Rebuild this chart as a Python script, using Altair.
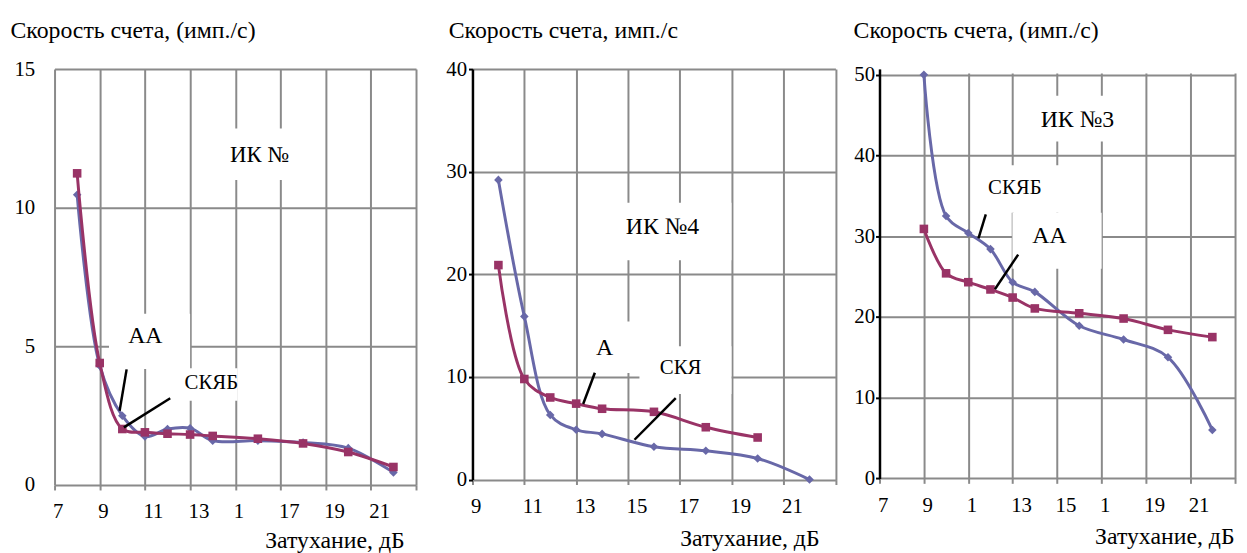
import altair as alt
import pandas as pd

# ---------------- data ----------------
# Panel 1 (ИК №)
p1_x = [8, 9, 10, 11, 12, 13, 14, 16, 18, 20, 22]
p1_skyab = [10.47, 4.3, 2.5, 1.75, 2.02, 2.05, 1.6, 1.6, 1.53, 1.33, 0.45]
p1_aa = [11.24, 4.4, 2.02, 1.9, 1.85, 1.82, 1.77, 1.67, 1.5, 1.19, 0.65]

# Panel 2 (ИК №4)
p2_x_skyab = [10, 11, 12, 13, 14, 16, 18, 20, 22]
p2_skyab = [29.2, 15.9, 6.3, 4.85, 4.45, 3.2, 2.8, 2.05, 0.0]
p2_x_aa = [10, 11, 12, 13, 14, 16, 18, 20]
p2_aa = [20.9, 9.8, 8.0, 7.4, 6.9, 6.6, 5.1, 4.1]

# Panel 3 (ИК №3)
p3_x = [9, 10, 11, 12, 13, 14, 16, 18, 20, 22]
p3_skyab = [50.0, 32.5, 30.4, 28.4, 24.3, 23.1, 18.9, 17.2, 15.0, 6.0]
p3_aa = [30.9, 25.4, 24.3, 23.4, 22.4, 21.05, 20.45, 19.8, 18.4, 17.5]

# Tick values / labels
p1_xticks = [7, 9, 11, 13, 15, 17, 19, 21, 23]
p1_xlabels = ["7", "9", "11", "13", "1", "17", "19", "21", ""]
p1_yticks = [0, 5, 10, 15]

p2_xticks = [9, 11, 13, 15, 17, 19, 21, 23]
p2_xlabels = ["9", "11", "13", "15", "17", "19", "21", ""]
p2_yticks = [0, 10, 20, 30, 40]

p3_xticks = [7, 9, 11, 13, 15, 17, 19, 21, 23]
p3_xlabels = ["7", "9", "1", "13", "15", "1", "19", "21", ""]
p3_yticks = [0, 10, 20, 30, 40, 50]

y_title_1 = "Скорость счета, (имп./с)"
y_title_2 = "Скорость счета, имп./с"
y_title_3 = "Скорость счета, (имп./с)"
x_title = "Затухание, дБ"

# Annotation boxes (white label backgrounds), texts and leader lines, in data units
p1_boxes = {"x": [14.23, 9.41, 12.04], "x2": [18.97, 13.0, 15.1],
            "y": [12.86, 6.18, 4.21], "y2": [11.0, 4.18, 3.04]}
p1_texts = {"t": ["ИК №", "АА", "СКЯБ"], "x": [16.07, 11.02, 13.94],
            "y": [11.89, 5.36, 3.69], "s": [23, 24, 21]}
p1_leaders = {"x": [10.19, 12.12], "y": [4.17, 3.13], "x2": [9.88, 10.07], "y2": [2.68, 2.08]}

p2_boxes = {"x": [14.56, 13.53, 15.44], "x2": [18.99, 15.44, 18.99],
            "y": [26.98, 15.4, 12.98], "y2": [21.38, 10.38, 8.35]}
p2_texts = {"t": ["ИК №4", "А", "СКЯ"], "x": [16.33, 14.1, 17.03],
            "y": [24.57, 12.82, 10.89], "s": [24, 24, 21]}
p2_leaders = {"x": [13.72, 16.84], "y": [10.41, 7.93], "x2": [13.27, 15.25], "y2": [7.36, 3.88]}

# panel 3: the first box is a white band above the 50 line (the panel sits lower)
p3_boxes = {"x": [7.12, 13.84, 11.52, 12.99], "x2": [23.2, 17.5, 16.07, 17.01],
            "y": [50.14, 47.39, 38.8, 32.91], "y2": [50.8, 41.74, 32.91, 25.96]}
p3_texts = {"t": ["ИК №3", "СКЯБ", "АА"], "x": [15.92, 13.1, 14.66],
            "y": [44.36, 35.98, 29.97], "s": [24, 21, 24]}
p3_leaders = {"x": [11.79, 13.25], "y": [32.7, 27.72], "x2": [11.46, 12.2], "y2": [29.72, 23.43]}

# ---------------- styling ----------------
FONT = "Liberation Serif"
BLUE = "#6868A8"
RED = "#993366"
GRID = "#8A8A8A"


def label_expr(vals, labels):
    expr = "''"
    for v, l in reversed(list(zip(vals, labels))):
        expr = f"datum.value == {v} ? '{l}' : ({expr})"
    return expr


def x_axis(vals, labels, title_x, title_y):
    return alt.Axis(
        values=vals, labelExpr=label_expr(vals, labels),
        grid=True, gridColor=GRID, gridWidth=2, gridOpacity=1,
        domain=False, ticks=True, tickColor=GRID, tickWidth=2, tickSize=5,
        labelFont=FONT, labelFontSize=21, labelColor="black",
        labelAlign="left", labelBaseline="alphabetic", labelPadding=28,
        labelOffset=-2, labelFlush=False, labelOverlap=False,
        title=x_title, titleFont=FONT, titleFontSize=24, titleFontWeight="normal",
        titleColor="black", titleAlign="right", titleBaseline="alphabetic",
        titleX=title_x, titleY=title_y,
    )


def y_axis(vals, title, tx, ty, dark, pad):
    kw = dict(
        values=vals, format="d",
        grid=True, gridColor=GRID, gridWidth=2, gridOpacity=1,
        labelFont=FONT, labelFontSize=21, labelColor="black",
        labelPadding=pad, labelFlush=False, labelOverlap=False,
        title=title, titleAngle=0, titleAlign="left", titleBaseline="alphabetic",
        titleX=tx, titleY=ty, titleFont=FONT, titleFontSize=24,
        titleFontWeight="normal", titleColor="black",
    )
    if dark:
        kw.update(domain=True, domainColor="black", domainWidth=2.5,
                  ticks=True, tickColor="black", tickSize=4, tickWidth=2)
    else:
        kw.update(domain=False, ticks=False)
    return alt.Axis(**kw)


def panel(xs_b, ys_b, xs_r, ys_r, xdom, ydom, xax, yax, boxes, texts, leaders, w, h):
    X = alt.X("x:Q", scale=alt.Scale(domain=xdom, nice=False, zero=False), axis=xax)
    Y = alt.Y("y:Q", scale=alt.Scale(domain=ydom, nice=False, zero=False), axis=yax)

    blue_df = pd.DataFrame({"x": xs_b, "y": ys_b})
    red_df = pd.DataFrame({"x": xs_r, "y": ys_r})

    rects = alt.Chart(pd.DataFrame(boxes)).mark_rect(color="white", opacity=1).encode(
        x=X, x2="x2:Q", y=Y, y2="y2:Q")
    bl = alt.Chart(blue_df).mark_line(color=BLUE, strokeWidth=3, interpolate="catmull-rom").encode(x=X, y=Y)
    bp = alt.Chart(blue_df).mark_point(shape="diamond", filled=True, color=BLUE, opacity=1, size=75).encode(x=X, y=Y)
    rl = alt.Chart(red_df).mark_line(color=RED, strokeWidth=3, interpolate="catmull-rom").encode(x=X, y=Y)
    rp = alt.Chart(red_df).mark_point(shape="square", filled=True, color=RED, opacity=1, size=75).encode(x=X, y=Y)
    lead = alt.Chart(pd.DataFrame(leaders)).mark_rule(color="black", strokeWidth=2.5).encode(
        x=X, y=Y, x2="x2:Q", y2="y2:Q")
    txt = alt.Chart(pd.DataFrame(texts)).mark_text(
        font=FONT, color="black", align="center", baseline="middle").encode(
        x=X, y=Y, text="t:N", size=alt.Size("s:Q", scale=None, legend=None))
    return alt.layer(rects, bl, bp, rl, rp, lead, txt).properties(width=w, height=h)


p1 = panel(p1_x, p1_skyab, p1_x, p1_aa, [7, 23], [0, 15],
           x_axis(p1_xticks, p1_xlabels, 353, 63),
           y_axis(p1_yticks, y_title_1, -45, -32, False, 20),
           p1_boxes, p1_texts, p1_leaders, 365, 420)

p2 = panel(p2_x_skyab, p2_skyab, p2_x_aa, p2_aa, [9, 23], [0, 40],
           x_axis(p2_xticks, p2_xlabels, 350, 67),
           y_axis(p2_yticks, y_title_2, -24.5, -31.7, True, 2),
           p2_boxes, p2_texts, p2_leaders, 366.5, 414.5)

# panel 3 is taller by the band above its 50 line, so its top lines up with the others
p3 = panel(p3_x, p3_skyab, p3_x, p3_aa, [7, 23], [0, 50.7],
           x_axis(p3_xticks, p3_xlabels, 358, 66),
           y_axis(p3_yticks, y_title_3, -26.7, -32, True, 1),
           p3_boxes, p3_texts, p3_leaders, 358.5, 413.3)


def spacer(w):
    return alt.Chart(pd.DataFrame({"s": [0]})).mark_point(opacity=0).encode(
        x=alt.value(0), y=alt.value(0)).properties(width=w, height=1)


chart = alt.hconcat(p1, spacer(56.5), p2, spacer(43.7), p3,
                    spacing=0, bounds="flush").configure_view(
    stroke=None).properties(
    padding={"left": 2, "top": 8, "right": 0, "bottom": 0},
    background="white",
)

chart.save("out.html", embed_options={"renderer": "svg", "actions": False})
